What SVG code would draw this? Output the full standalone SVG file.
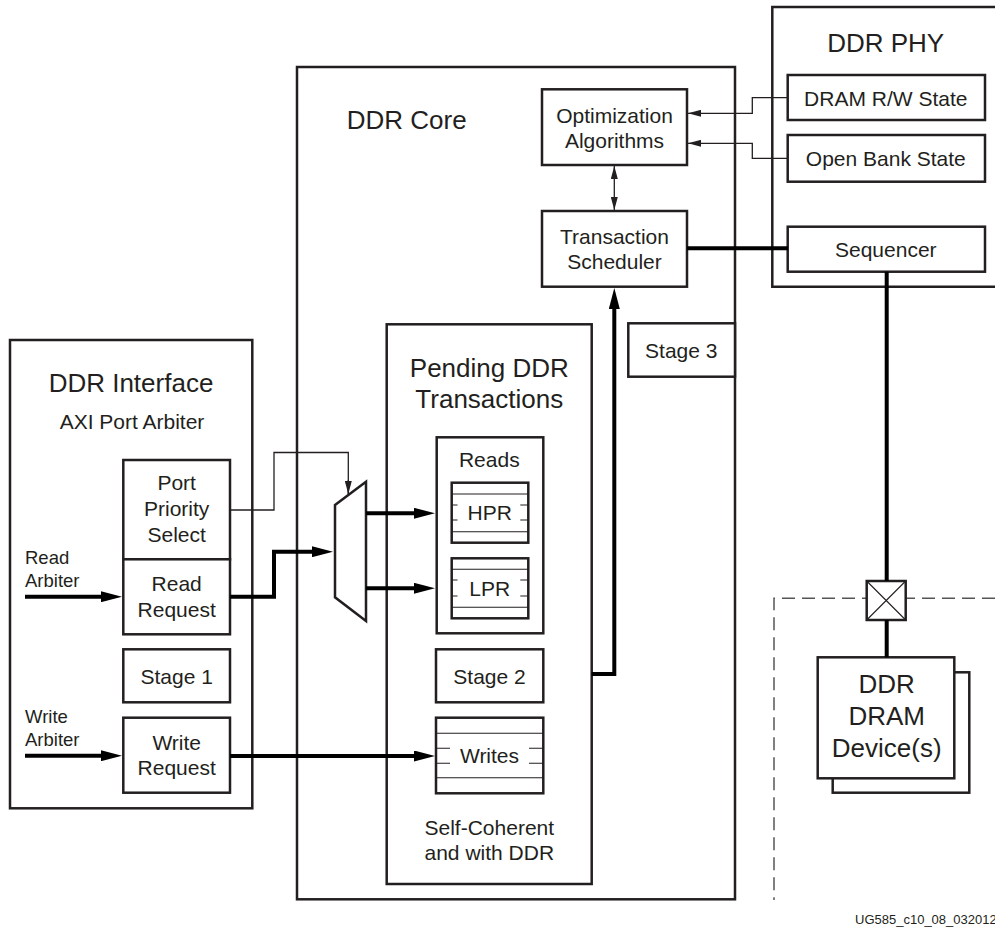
<svg xmlns="http://www.w3.org/2000/svg" width="995" height="928" viewBox="0 0 995 928">
<style>
  text { font-family: "Liberation Sans", Arial, sans-serif; fill: #231f20; }
  .c { text-anchor: middle; }
  .f26 { font-size: 26px; }
  .f21 { font-size: 21px; }
  .f18 { font-size: 18.5px; }
  .f13 { font-size: 13px; }
  .box { fill: #fff; stroke: #231f20; stroke-width: 2.5; }
  .cont { fill: none; stroke: #231f20; stroke-width: 2.5; }
  .q { fill: none; stroke: #231f20; stroke-width: 1.1; }
  .thick { fill: none; stroke: #000; stroke-width: 4; }
  .thin { fill: none; stroke: #231f20; stroke-width: 1.3; }
  .dash { fill: none; stroke: #555; stroke-width: 1.5; stroke-dasharray: 13 7; }
</style>
<defs>
  <marker id="ahThick" markerUnits="userSpaceOnUse" markerWidth="21" markerHeight="11" refX="11" refY="5.5" orient="auto">
    <path d="M0,0 L21,5.5 L0,11 z" fill="#000"/>
  </marker>
  <marker id="ahThin" markerUnits="userSpaceOnUse" markerWidth="13" markerHeight="7" refX="13" refY="3.5" orient="auto">
    <path d="M0,0 L13,3.5 L0,7 z" fill="#231f20"/>
  </marker>
  <marker id="ahThinStart" markerUnits="userSpaceOnUse" markerWidth="13" markerHeight="7" refX="0" refY="3.5" orient="auto">
    <path d="M13,0 L0,3.5 L13,7 z" fill="#231f20"/>
  </marker>
</defs>

<!-- Containers -->
<g id="ddr-phy">
  <path class="cont" d="M1000,7 H772.3 V286.7 H1000"/>
  <text class="c f26" x="885.7" y="51.7">DDR PHY</text>
</g>
<g id="ddr-core">
  <rect class="cont" x="297" y="67" width="438" height="832.3"/>
  <text class="f26" x="346.7" y="129">DDR Core</text>
</g>
<g id="ddr-interface">
  <rect class="cont" x="10" y="340" width="242.3" height="468.3"/>
  <text class="c f26" x="131" y="391.7">DDR Interface</text>
  <text class="c f21" x="132" y="429.3">AXI Port Arbiter</text>
</g>
<g id="pending">
  <rect class="cont" x="386.7" y="324.3" width="205" height="559.7"/>
  <text class="c f26" x="489.3" y="376.7">Pending DDR</text>
  <text class="c f26" x="489.3" y="408.3">Transactions</text>
  <text class="c f21" x="489.3" y="835">Self-Coherent</text>
  <text class="c f21" x="489.3" y="860">and with DDR</text>
</g>
<g id="ddr-board">
  <path class="dash" d="M995,598.3 H774 V900"/>
</g>

<!-- PHY nodes -->
<g id="dram-rw-state">
  <rect class="box" x="787.7" y="75" width="197.3" height="45"/>
  <text class="c f21" x="885.8" y="106">DRAM R/W State</text>
</g>
<g id="open-bank-state">
  <rect class="box" x="787.7" y="135" width="197.3" height="46.7"/>
  <text class="c f21" x="885.8" y="165.7">Open Bank State</text>
</g>
<g id="sequencer">
  <rect class="box" x="787.7" y="226.7" width="197.3" height="45"/>
  <text class="c f21" x="885.8" y="256.7">Sequencer</text>
</g>

<!-- Core nodes -->
<g id="optimization">
  <rect class="box" x="542" y="89.3" width="145" height="75.7"/>
  <text class="c f21" x="614.5" y="123.3">Optimization</text>
  <text class="c f21" x="614.5" y="147.7">Algorithms</text>
</g>
<g id="scheduler">
  <rect class="box" x="542" y="211" width="145" height="75.7"/>
  <text class="c f21" x="614.5" y="244.3">Transaction</text>
  <text class="c f21" x="614.5" y="269.3">Scheduler</text>
</g>
<g id="stage3">
  <rect class="box" x="628.3" y="323.3" width="106.7" height="53.4"/>
  <text class="c f21" x="681.3" y="357.7">Stage 3</text>
</g>
<g id="reads">
  <rect class="box" x="436.7" y="437.3" width="106.6" height="196"/>
  <text class="c f21" x="489.3" y="467.3">Reads</text>
</g>
<g id="hpr">
  <rect class="box" x="451.7" y="482.7" width="76.6" height="60"/>
  <path class="q" d="M451.7,494 H528.3 M451.7,505 H457.5 M451.7,520 H457.5 M520.3,505 H528.3 M520.3,520 H528.3 M451.7,531.7 H528.3"/>
  <text class="c f21" x="489.7" y="520">HPR</text>
</g>
<g id="lpr">
  <rect class="box" x="451.7" y="558.3" width="76.6" height="60"/>
  <path class="q" d="M451.7,569.3 H528.3 M451.7,580 H457.5 M451.7,596 H457.5 M520.3,580 H528.3 M520.3,596 H528.3 M451.7,607.3 H528.3"/>
  <text class="c f21" x="489.7" y="596">LPR</text>
</g>
<g id="stage2">
  <rect class="box" x="436" y="649.3" width="107.3" height="53"/>
  <text class="c f21" x="489.5" y="684">Stage 2</text>
</g>
<g id="writes">
  <rect class="box" x="436" y="717.7" width="107.3" height="75.6"/>
  <path class="q" d="M436,733.3 H543.3 M436,748.3 H450 M436,763.3 H450 M529,748.3 H543.3 M529,763.3 H543.3 M436,777.7 H543.3"/>
  <text class="c f21" x="489.5" y="763.3">Writes</text>
</g>
<g id="mux">
  <polygon class="box" points="335,505 366,481.7 366,621 335,597.3"/>
</g>

<!-- Interface nodes -->
<g id="port-priority">
  <rect class="box" x="123.3" y="460" width="106.7" height="99.3"/>
  <text class="c f21" x="176.7" y="490">Port</text>
  <text class="c f21" x="176.7" y="515.7">Priority</text>
  <text class="c f21" x="176.7" y="541.7">Select</text>
</g>
<g id="read-request">
  <rect class="box" x="123.3" y="559.3" width="106.7" height="75"/>
  <text class="c f21" x="176.7" y="591">Read</text>
  <text class="c f21" x="176.7" y="616.7">Request</text>
</g>
<g id="stage1">
  <rect class="box" x="123.3" y="649.3" width="106.7" height="53"/>
  <text class="c f21" x="176.7" y="684.3">Stage 1</text>
</g>
<g id="write-request">
  <rect class="box" x="123.3" y="717.7" width="106.7" height="75"/>
  <text class="c f21" x="176.7" y="750">Write</text>
  <text class="c f21" x="176.7" y="775">Request</text>
</g>
<g id="read-arbiter-label">
  <text class="f18" x="25" y="564.3">Read</text>
  <text class="f18" x="25" y="586.7">Arbiter</text>
</g>
<g id="write-arbiter-label">
  <text class="f18" x="25" y="722.7">Write</text>
  <text class="f18" x="25" y="745.7">Arbiter</text>
</g>

<!-- DRAM -->
<g id="io-pad">
  <rect class="box" x="866.7" y="581" width="39" height="39"/>
  <path class="q" d="M866.7,581 L905.7,620 M905.7,581 L866.7,620"/>
</g>
<g id="dram-device">
  <rect class="box" x="832.7" y="672.3" width="136.6" height="120.4"/>
  <rect class="box" x="817.7" y="657.3" width="136.6" height="121"/>
  <text class="c f26" x="886.7" y="692.7">DDR</text>
  <text class="c f26" x="886.7" y="725">DRAM</text>
  <text class="c f26" x="886.7" y="756.7">Device(s)</text>
</g>

<!-- Connectors -->
<g id="connectors">
  <path class="thick" d="M25,596.7 H112" marker-end="url(#ahThick)"/>
  <path class="thick" d="M25,755.7 H112" marker-end="url(#ahThick)"/>
  <path class="thick" d="M230,596.7 H274 V551.7 H323" marker-end="url(#ahThick)"/>
  <path class="thin" d="M230,510 H274 V452.5 H348.3 V494"/>
  <path class="thin" d="M348.3,480 V494" marker-end="url(#ahThin)"/>
  <path class="thick" d="M366,513.3 H425" marker-end="url(#ahThick)"/>
  <path class="thick" d="M366,588.3 H425" marker-end="url(#ahThick)"/>
  <path class="thick" d="M230,756 H425" marker-end="url(#ahThick)"/>
  <path class="thick" d="M591.7,674 H614.3 V298" marker-end="url(#ahThick)"/>
  <path class="thin" d="M614.3,166 V210" marker-start="url(#ahThinStart)" marker-end="url(#ahThin)"/>
  <path class="thin" d="M788,97.7 H752.3 V113.3 H688" marker-end="url(#ahThin)"/>
  <path class="thin" d="M788,158.3 H752.3 V143.3 H688" marker-end="url(#ahThin)"/>
  <path class="thick" d="M687,248.3 H788"/>
  <path class="thick" d="M886.7,271.7 V581"/>
  <path class="thick" d="M886.7,620 V657.3"/>
</g>

<text class="f13" x="855" y="924">UG585_c10_08_032012</text>
</svg>
